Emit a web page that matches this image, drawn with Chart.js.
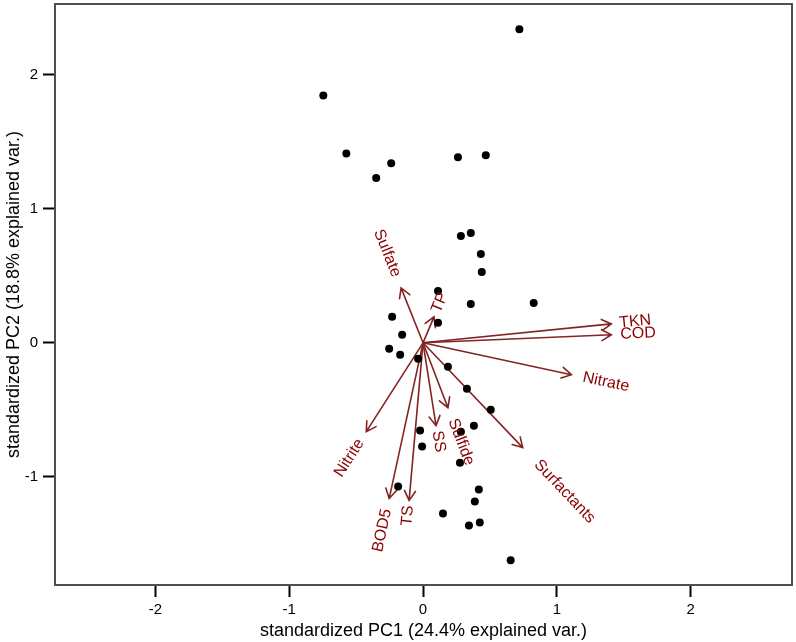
<!DOCTYPE html>
<html>
<head>
<meta charset="utf-8">
<script src="https://cdn.jsdelivr.net/npm/chart.js@4/dist/chart.umd.min.js"></script>
<style>
  body { margin: 0; background: #fff; }
  canvas { display: block; }
</style>
</head>
<body>
<canvas id="biplot" width="796" height="642"></canvas>
<script>
// Sample scores (standardized PC1 / PC2)
const pc1 = [0.72, -0.745, -0.573, -0.238, -0.350, 0.261, 0.469, 0.357, 0.283, 0.432,
             0.439, 0.112, 0.357, 0.827, 0.112, -0.231, -0.156, -0.253, -0.171, -0.037,
             0.186, 0.328, 0.506, 0.380, -0.022, -0.007, 0.283, 0.276, -0.186, 0.417,
             0.387, 0.149, 0.343, 0.424, 0.655];
const pc2 = [2.34, 1.845, 1.413, 1.340, 1.229, 1.385, 1.400, 0.819, 0.797, 0.663,
             0.529, 0.387, 0.290, 0.298, 0.149, 0.194, 0.060, -0.045, -0.089, -0.119,
             -0.179, -0.343, -0.499, -0.618, -0.655, -0.774, -0.663, -0.894, -1.072, -1.095,
             -1.184, -1.273, -1.363, -1.340, -1.623];

// Variable loadings (arrow tips)
const varNames = ['Sulfate', 'TP', 'TKN', 'COD', 'Nitrate', 'Surfactants', 'Sulfide', 'SS', 'Nitrite', 'BOD5', 'TS'];
const loadX = [-0.164, 0.082, 1.407, 1.407, 1.109, 0.745, 0.186, 0.097, -0.424, -0.253, -0.104];
const loadY = [0.410, 0.194, 0.141, 0.060, -0.238, -0.782, -0.484, -0.618, -0.663, -1.162, -1.176];

// Axis ticks
const xTicks = [-2, -1, 0, 1, 2];
const yTicks = [-1, 0, 1, 2];

const FONT = '"Liberation Sans", Arial, Helvetica, sans-serif';
const ARROW_COLOR = '#832424';
const LABEL_COLOR = '#8B0000';

// Draw the plot box, loading arrows and their labels
const biplotPlugin = {
    id: 'biplot',
    beforeDatasetsDraw(chart) {
        const ctx = chart.ctx;
        const xs = chart.scales.x, ys = chart.scales.y;
        const ox = xs.getPixelForValue(0), oy = ys.getPixelForValue(0);
        ctx.save();
        ctx.strokeStyle = ARROW_COLOR;
        ctx.lineWidth = 1.6;
        ctx.lineCap = 'round';
        for (let i = 0; i < varNames.length; i++) {
            const tx = xs.getPixelForValue(loadX[i]);
            const ty = ys.getPixelForValue(loadY[i]);
            const a = Math.atan2(ty - oy, tx - ox);
            const head = 11, spread = Math.PI / 6;
            ctx.beginPath();
            ctx.moveTo(ox, oy);
            ctx.lineTo(tx, ty);
            ctx.moveTo(tx - head * Math.cos(a - spread), ty - head * Math.sin(a - spread));
            ctx.lineTo(tx, ty);
            ctx.lineTo(tx - head * Math.cos(a + spread), ty - head * Math.sin(a + spread));
            ctx.stroke();
        }
        ctx.restore();
    },
    afterDatasetsDraw(chart) {
        const ctx = chart.ctx;
        const xs = chart.scales.x, ys = chart.scales.y;
        ctx.save();
        ctx.fillStyle = LABEL_COLOR;
        ctx.font = '16px ' + FONT;
        ctx.textBaseline = 'middle';
        for (let i = 0; i < varNames.length; i++) {
            const tx = xs.getPixelForValue(loadX[i]);
            const ty = ys.getPixelForValue(loadY[i]);
            const angle = Math.atan(loadY[i] / loadX[i]);
            const w = ctx.measureText(varNames[i]).width;
            ctx.save();
            ctx.translate(tx, ty);
            ctx.rotate(-angle);
            if (loadX[i] > 0) {
                ctx.textAlign = 'left';
                ctx.fillText(varNames[i], 0.25 * w, 0);
            } else {
                ctx.textAlign = 'right';
                ctx.fillText(varNames[i], -0.25 * w, 0);
            }
            ctx.restore();
        }
        ctx.restore();

        // box around the panel
        const area = chart.chartArea;
        ctx.save();
        ctx.strokeStyle = '#505050';
        ctx.lineWidth = 2;
        ctx.strokeRect(area.left, area.top, area.right - area.left, area.bottom - area.top);
        ctx.restore();
    }
};

const points = pc1.map((v, i) => ({ x: v, y: pc2[i] }));

new Chart(document.getElementById('biplot'), {
    type: 'scatter',
    data: {
        datasets: [{
            data: points,
            backgroundColor: '#000',
            borderWidth: 0,
            pointRadius: 4,
            pointHoverRadius: 4
        }]
    },
    options: {
        responsive: false,
        animation: false,
        devicePixelRatio: 1,
        layout: { padding: { top: 2, right: 2, left: 0, bottom: 0 } },
        plugins: { legend: { display: false }, tooltip: { enabled: false } },
        scales: {
            x: {
                type: 'linear',
                min: -2.75,
                max: 2.757,
                afterBuildTicks: scale => { scale.ticks = xTicks.map(v => ({ value: v })); },
                afterFit: scale => {
                    scale.height = 57;
                    scale.paddingLeft = 0;
                    scale.paddingRight = 0;
                },
                grid: { drawOnChartArea: false, drawTicks: true, tickLength: 12, tickColor: '#000', tickWidth: 2 },
                border: { display: false },
                ticks: {
                    padding: 4,
                    color: '#000',
                    font: { family: FONT, size: 15 },
                    maxRotation: 0,
                    callback: v => String(v)
                },
                title: {
                    display: true,
                    text: 'standardized PC1 (24.4% explained var.)',
                    color: '#000',
                    font: { family: FONT, size: 18 },
                    padding: { top: 0, bottom: 0 }
                }
            },
            y: {
                type: 'linear',
                min: -1.807,
                max: 2.528,
                afterBuildTicks: scale => { scale.ticks = yTicks.map(v => ({ value: v })); },
                afterFit: scale => {
                    scale.width = 55;
                    scale.paddingTop = 0;
                    scale.paddingBottom = 0;
                },
                grid: { drawOnChartArea: false, drawTicks: true, tickLength: 12, tickColor: '#000', tickWidth: 2 },
                border: { display: false },
                ticks: {
                    padding: 5,
                    color: '#000',
                    font: { family: FONT, size: 15 },
                    callback: v => String(v)
                },
                title: {
                    display: true,
                    text: 'standardized PC2 (18.8% explained var.)',
                    color: '#000',
                    font: { family: FONT, size: 18 },
                    padding: { top: 3, bottom: 0 }
                }
            }
        }
    },
    plugins: [biplotPlugin]
});
</script>
</body>
</html>
